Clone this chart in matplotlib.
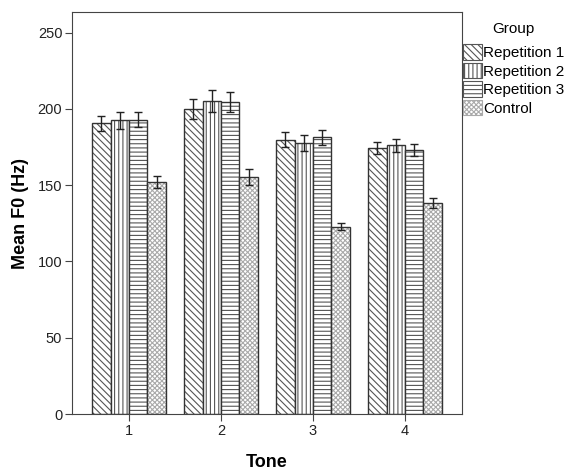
import matplotlib.pyplot as plt
import numpy as np
from matplotlib.patches import Patch

plt.rcParams['font.family'] = ['Liberation Sans', 'DejaVu Sans']
plt.rcParams['hatch.linewidth'] = 0.8

tones = ['1', '2', '3', '4']
groups = ['Repetition 1', 'Repetition 2', 'Repetition 3', 'Control']
# mean F0 per tone for each group
means = {
    'Repetition 1': [190.5, 200.0, 179.8, 174.4],
    'Repetition 2': [192.6, 205.2, 177.6, 176.0],
    'Repetition 3': [193.0, 204.5, 181.3, 173.0],
    'Control':      [152.2, 155.4, 122.9, 138.3],
}
# half-width of error bars
errs = {
    'Repetition 1': [5.0, 6.6, 4.8, 4.0],
    'Repetition 2': [5.5, 7.0, 5.0, 4.3],
    'Repetition 3': [5.0, 6.5, 5.0, 4.2],
    'Control':      [4.0, 5.4, 2.6, 3.2],
}
hatches = ['\\\\\\\\\\', '||||', '----', 'xxxxxxx']
hatch_colors = ['#555555', '#555555', '#555555', '#aaaaaa']

fig = plt.figure(figsize=(5.66, 4.73), dpi=100)
ax = fig.add_axes([72 / 566, 59 / 473, 390 / 566, 402 / 473])

x = np.arange(1, len(tones) + 1)
w = 0.2
for i, g in enumerate(groups):
    pos = x + (i - 1.5) * w
    # hatch fill first, then a dark outline on top
    ax.bar(pos, means[g], width=w, color='white', edgecolor=hatch_colors[i],
           hatch=hatches[i], linewidth=0)
    ax.bar(pos, means[g], width=w, fill=False, edgecolor='#333333',
           linewidth=1.0)
    ax.errorbar(pos, means[g], yerr=errs[g], fmt='none', ecolor='#222222',
                elinewidth=1.0, capsize=3, capthick=1.0)

ax.set_xlim(0.38, 4.62)
ax.set_ylim(0, 263.5)
ax.set_xticks(x)
ax.set_xticklabels(tones)
ax.set_yticks([0, 50, 100, 150, 200, 250])
for s in ax.spines.values():
    s.set_color('#444444')
ax.tick_params(axis='both', colors='#444444', labelcolor='#222222',
               labelsize=10.5, length=5, pad=2)
ax.set_xlabel('Tone', fontsize=13, fontweight='bold', labelpad=12)
ax.set_ylabel('Mean F0 (Hz)', fontsize=13, fontweight='bold', labelpad=6)

handles = [Patch(facecolor='white', edgecolor=hatch_colors[i], hatch=hatches[i],
                 linewidth=0.8) for i in range(len(groups))]
leg = ax.legend(handles, groups, title='Group', loc='upper left',
                bbox_to_anchor=(1.003, 0.975), frameon=False, fontsize=11,
                title_fontsize=11, handlelength=1.2, handleheight=1.2,
                handletextpad=0.1, labelspacing=0.16, borderaxespad=0.0,
                borderpad=0.0)
leg._legend_box.sep = 6

fig.savefig('out.png', dpi=100)
